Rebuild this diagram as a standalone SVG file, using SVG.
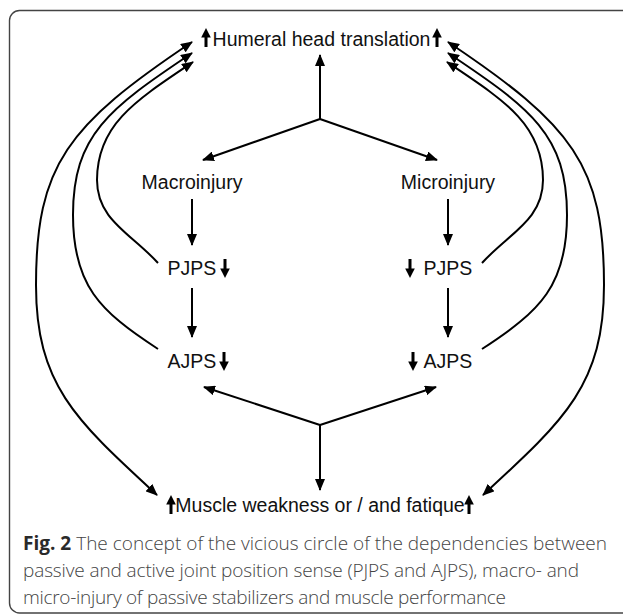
<svg xmlns="http://www.w3.org/2000/svg" xmlns:xlink="http://www.w3.org/1999/xlink" width="623" height="615" viewBox="0 0 623 615">
<style>
  .lbl { font-family: "Liberation Sans", Arial, sans-serif; font-size: 19.5px; fill: #111; }
  .cap { font-family: "Open Sans", "Liberation Sans", sans-serif; font-size: 19px; fill: #444; font-weight: 300; }
  .cap .b { font-weight: 700; fill: #2a2a2a; }
  .ln { fill: none; stroke: #000; stroke-width: 2; }
  .arr { marker-end: url(#ah); }
  .arr2 { marker-start: url(#ah); marker-end: url(#ah); }
</style>
<defs>
  <marker id="ah" markerUnits="userSpaceOnUse" viewBox="0 0 12 10" refX="11" refY="5" markerWidth="12" markerHeight="10" orient="auto-start-reverse">
    <path d="M0,0 L12,5 L0,10 z" fill="#000"/>
  </marker>
  <g id="up">
    <rect x="-1.5" y="8" width="3" height="11" fill="#000"/>
    <path d="M-4.8,9.5 L0,0 L4.8,9.5 z" fill="#000"/>
  </g>
</defs>

<rect x="9.5" y="10.5" width="640" height="602.5" rx="10" fill="#fff" stroke="#444" stroke-width="1.4"/>

<g id="connectors">
  <path class="ln arr" d="M320,119 V55"/>
  <path class="ln arr" d="M320,119 L203,160"/>
  <path class="ln arr" d="M320,119 L437,160"/>
  <path class="ln arr" d="M192,199 V245"/>
  <path class="ln arr" d="M192,288 V337"/>
  <path class="ln arr" d="M448,199 V245"/>
  <path class="ln arr" d="M448,288 V337"/>
  <path class="ln arr" d="M320,425 L204,387"/>
  <path class="ln arr" d="M320,425 L436,387"/>
  <path class="ln arr" d="M320,425 V490"/>
  <g id="arcs-left">
    <path class="ln arr2" d="M157,495 C76,420.5 36,385 36,285 C36,165 67.4,125.4 192,42"/>
    <path class="ln arr" d="M158,349 C99.3,310.9 73,285 73,215 C73,135 108.9,108.6 192,53"/>
    <path class="ln arr" d="M158,263 C131.2,233.4 97,220 97,180 C97,125 134.8,100.9 193,62"/>
  </g>
  <g id="arcs-right" transform="matrix(-1 0 0 1 640 0)">
    <path class="ln arr2" d="M157,495 C76,420.5 36,385 36,285 C36,165 67.4,125.4 192,42"/>
    <path class="ln arr" d="M158,349 C99.3,310.9 73,285 73,215 C73,135 108.9,108.6 192,53"/>
    <path class="ln arr" d="M158,263 C131.2,233.4 97,220 97,180 C97,125 134.8,100.9 193,62"/>
  </g>
</g>

<g id="node-humeral">
  <use xlink:href="#up" transform="translate(206,28)"/>
  <text class="lbl" x="321.5" y="46" text-anchor="middle">Humeral head translation</text>
  <use xlink:href="#up" transform="translate(437,28)"/>
</g>
<g id="node-macroinjury">
  <text class="lbl" x="192" y="189" text-anchor="middle">Macroinjury</text>
</g>
<g id="node-microinjury">
  <text class="lbl" x="448" y="189" text-anchor="middle">Microinjury</text>
</g>
<g id="node-pjps-left">
  <text class="lbl" x="192" y="275" text-anchor="middle">PJPS</text>
  <use xlink:href="#up" transform="translate(225,278) scale(1,-1)"/>
</g>
<g id="node-pjps-right">
  <use xlink:href="#up" transform="translate(410,278) scale(1,-1)"/>
  <text class="lbl" x="448" y="275" text-anchor="middle">PJPS</text>
</g>
<g id="node-ajps-left">
  <text class="lbl" x="192" y="368" text-anchor="middle">AJPS</text>
  <use xlink:href="#up" transform="translate(224,371) scale(1,-1)"/>
</g>
<g id="node-ajps-right">
  <use xlink:href="#up" transform="translate(413,371) scale(1,-1)"/>
  <text class="lbl" x="448" y="368" text-anchor="middle">AJPS</text>
</g>
<g id="node-muscle">
  <use xlink:href="#up" transform="translate(171,495)"/>
  <text class="lbl" x="320" y="512" text-anchor="middle">Muscle weakness or / and fatique</text>
  <use xlink:href="#up" transform="translate(469,495)"/>
</g>

<g id="caption">
  <text class="cap" x="23" y="550" textLength="584" lengthAdjust="spacing"><tspan class="b">Fig. 2</tspan> The concept of the vicious circle of the dependencies between</text>
  <text class="cap" x="23" y="577" textLength="556" lengthAdjust="spacing">passive and active joint position sense (PJPS and AJPS), macro- and</text>
  <text class="cap" x="23" y="604" textLength="483" lengthAdjust="spacing">micro-injury of passive stabilizers and muscle performance</text>
</g>
</svg>
